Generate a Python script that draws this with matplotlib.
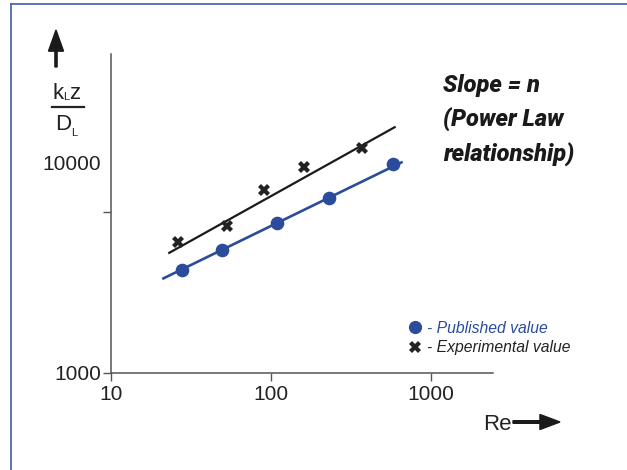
import matplotlib
matplotlib.use("Agg")
import matplotlib.pyplot as plt
from matplotlib.lines import Line2D

# Published values (blue dots) and their fit line
published_re = [27.7, 49.2, 108.6, 231, 581]
published_kzd = [4365, 5808, 8513, 12270, 19770]
published_fit_re = [20.9, 665]
published_fit_kzd = [3837, 20500]

# Experimental values (black crosses) and their fit line
experimental_re = [26.4, 53.4, 90.4, 161.6, 372]
experimental_kzd = [6549, 8185, 13710, 19100, 24900]
experimental_fit_re = [22.8, 601]
experimental_fit_kzd = [5533, 33880]

x_ticks = [10, 100, 1000]
x_tick_labels = ["10", "100", "1000"]
y_ticks = [1000, 10000]
y_tick_labels = ["1000", ""]

W, H = 627, 470
BLUE = "#2b4c9b"
AXIS = "#555555"
plt.rcParams["font.family"] = ["Liberation Sans", "DejaVu Sans"]


def fx(px):
    return px / W


def fy(py):
    return 1 - py / H


fig = plt.figure(figsize=(W / 100, H / 100), dpi=100)
ax = fig.add_axes([fx(111), fy(373), (493 - 111) / W, (373 - 54) / H])

ax.plot(published_fit_re, published_fit_kzd, color=BLUE, lw=1.9, solid_capstyle="butt")
ax.plot(experimental_fit_re, experimental_fit_kzd, color="#1a1a1a", lw=1.6, solid_capstyle="butt")
ax.plot(published_re, published_kzd, "o", color=BLUE, ms=8.8, ls="none")
ax.plot(experimental_re, experimental_kzd, "X", color="#222222", ms=8.5, mew=0, ls="none")

ax.set_xscale("log")
ax.set_yscale("log")
ax.set_xlim(10, 10 ** (1 + 382 / 160))
ax.set_ylim(1000, 10 ** (3 + 319 / 161))
ax.set_xticks(x_ticks)
ax.set_xticklabels(x_tick_labels)
ax.set_yticks(y_ticks)
ax.set_yticklabels(y_tick_labels)
ax.minorticks_off()
ax.tick_params(axis="both", direction="out", length=5.5, width=1, color=AXIS,
               labelsize=15, labelcolor="#222222", pad=1.5)
ax.tick_params(axis="x", pad=3)
for side in ["top", "right"]:
    ax.spines[side].set_visible(False)
for side in ["left", "bottom"]:
    ax.spines[side].set_color(AXIS)
    ax.spines[side].set_linewidth(1.1)
ax.patch.set_alpha(0)

# misplaced 10000 label like the original sketch
fig.text(fx(101), fy(164), "10000", fontsize=15, color="#222222", ha="right", va="center")

# y axis label k_L z / D_L with up arrow
fig.text(fx(52), fy(99), "k", fontsize=16, color="#222222", ha="left", va="baseline")
fig.text(fx(63), fy(100.5), "L", fontsize=8, color="#222222", ha="left", va="baseline")
fig.text(fx(69.5), fy(99), "z", fontsize=16, color="#222222", ha="left", va="baseline")
fig.add_artist(Line2D([fx(51.5), fx(83.5)], [fy(106.5), fy(106.5)], color="#222222", lw=1.6))
fig.text(fx(55), fy(130), "D", fontsize=16, color="#222222", ha="left", va="baseline")
fig.text(fx(71.5), fy(136.5), "L", fontsize=8, color="#222222", ha="left", va="baseline")
fig.patches.append(matplotlib.patches.FancyArrow(
    fx(56), fy(67), 0, (67 - 30) / H, width=0.0035, head_width=0.024, head_length=0.045,
    length_includes_head=True, color="#1a1a1a", transform=fig.transFigure, figure=fig))

# x axis label with right arrow
fig.text(fx(483), fy(430), "Re", fontsize=16, color="#222222", ha="left", va="baseline")
fig.patches.append(matplotlib.patches.FancyArrow(
    fx(513), fy(422), (560 - 513) / W, 0, width=0.0055, head_width=0.032, head_length=0.032,
    length_includes_head=True, color="#1a1a1a", transform=fig.transFigure, figure=fig))

# slope note
for i, line in enumerate(["Slope = n", "(Power Law", "relationship)"]):
    fig.text(fx(443), fy(92 + i * 35), line, fontsize=17, fontweight="heavy", fontstyle="italic",
             family=["Roboto", "Liberation Sans"], color="#1a1a1a",
             ha="left", va="baseline")

# legend
fig.add_artist(Line2D([fx(415)], [fy(327)], marker="o", color=BLUE, ms=8.5, ls="none"))
fig.text(fx(427), fy(333), "- Published value", fontsize=11.3, fontstyle="italic",
         color=BLUE, ha="left", va="baseline")
fig.add_artist(Line2D([fx(415)], [fy(347)], marker="X", color="#222222", ms=8, mew=0, ls="none"))
fig.text(fx(427), fy(352), "- Experimental value", fontsize=11.3, fontstyle="italic",
         color="#222222", ha="left", va="baseline")

# frame lines at left and top
FRAME = "#4a6aad"
fig.add_artist(Line2D([fx(10.5), fx(10.5)], [fy(3.5), 0], color=FRAME, lw=1.3))
fig.add_artist(Line2D([fx(10.5), 1], [fy(3.5), fy(3.5)], color=FRAME, lw=1.3))

fig.savefig("out.png", dpi=100)
